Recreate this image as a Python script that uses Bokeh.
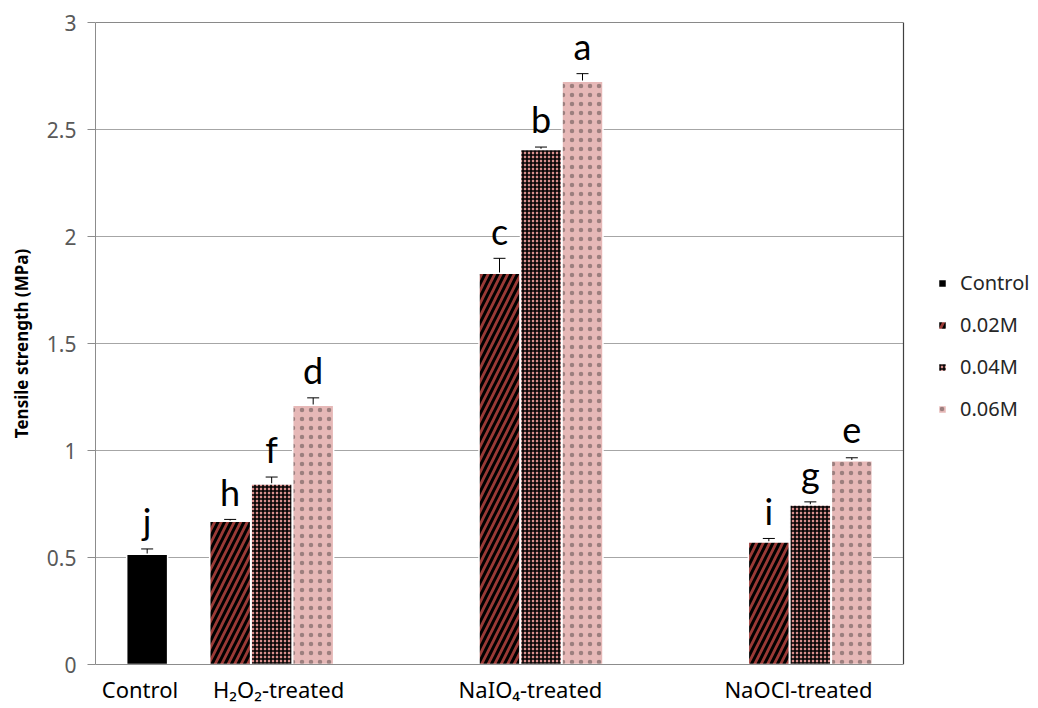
from bokeh.plotting import figure
from bokeh.models import (Range1d, FixedTicker, Legend, LegendItem, Whisker,
                          ColumnDataSource, TeeHead)
from bokeh.core.properties import value
from bokeh.embed import file_html
from bokeh.resources import INLINE

# ---------------- data ----------------
groups = ["H\u2082O\u2082-treated", "NaIO\u2084-treated", "NaOCl-treated"]
series = ["0.02M", "0.04M", "0.06M"]

control_value = [0.515]
control_err = [0.025]
control_letter = ["j"]

m002 = [0.669, 1.828, 0.573]
m002_err = [0.009, 0.070, 0.016]
m002_letters = ["h", "c", "i"]

m004 = [0.843, 2.406, 0.745]
m004_err = [0.033, 0.012, 0.015]
m004_letters = ["f", "b", "g"]

m006 = [1.212, 2.726, 0.952]
m006_err = [0.034, 0.035, 0.014]
m006_letters = ["d", "a", "e"]

y_ticks = [0, 0.5, 1, 1.5, 2, 2.5, 3]
y_tick_labels = ["0", "0.5", "1", "1.5", "2", "2.5", "3"]
x_label_names = ["Control"] + groups

# ---------------- layout constants ----------------
W, H = 1036, 706
LEFT, TOP, BOTTOM = 95, 22, 41
PLOT_PX = 808                      # pixel width of the 0..3 data area
X_MAX = 3.0
Y_MAX = 3.0
X_END = X_MAX * (W - LEFT) / PLOT_PX
SLOT = 0.1541                      # slot width in category units
BAR_W = 0.152
x_label_pos = [0.165, 0.68, 1.615, 2.61]
LETTER_GAP = 0.13

FONT = "Noto Sans"

p = figure(width=W, height=H, x_range=Range1d(0, X_END), y_range=Range1d(0, Y_MAX),
           output_backend="svg", toolbar_location=None,
           min_border_left=LEFT, min_border_right=0, min_border_top=TOP,
           min_border_bottom=BOTTOM)
p.background_fill_color = "white"
p.border_fill_color = "white"
p.outline_line_color = None
p.xgrid.visible = False
p.ygrid.visible = False

# horizontal gridlines limited to the plot area (0..3)
grid_y = [t for t in y_ticks if t > 0]
p.segment(x0=[0] * len(grid_y), y0=grid_y, x1=[X_MAX] * len(grid_y), y1=grid_y,
          line_color="#a6a6a6", line_width=1, level="underlay")

# plot-area border (top and right)
p.segment(x0=[0, X_MAX], y0=[Y_MAX, 0], x1=[X_MAX, X_MAX], y1=[Y_MAX, Y_MAX],
          line_color="#404040", line_width=1.2)

# y axis
p.yaxis.ticker = FixedTicker(ticks=y_ticks)
p.yaxis.major_label_overrides = {t: l for t, l in zip(y_ticks, y_tick_labels)}
p.yaxis.minor_tick_line_color = None
p.yaxis.major_tick_out = 8
p.yaxis.major_tick_in = 0
p.yaxis.major_tick_line_color = "#8c8c8c"
p.yaxis.axis_line_color = "#8c8c8c"
p.yaxis.major_label_text_font = FONT
p.yaxis.major_label_text_font_size = "21px"
p.yaxis.major_label_text_color = "#595959"
p.yaxis.major_label_standoff = 11
p.yaxis.axis_label = "Tensile strength (MPa)"
p.yaxis.axis_label_text_font = FONT
p.yaxis.axis_label_text_font_style = "bold"
p.yaxis.axis_label_text_font_size = "17px"
p.yaxis.axis_label_text_color = "#000000"
p.yaxis.axis_label_standoff = 11

# x axis
p.xaxis.ticker = FixedTicker(ticks=x_label_pos)
p.xaxis.major_label_overrides = {t: l for t, l in zip(x_label_pos, x_label_names)}
p.xaxis.major_tick_line_color = None
p.xaxis.minor_tick_line_color = None
p.xaxis.major_tick_out = 0
p.xaxis.major_tick_in = 0
p.xaxis.bounds = (0, X_MAX)
p.xaxis.axis_line_color = "#8c8c8c"
p.xaxis.major_label_text_font = FONT
p.xaxis.major_label_text_font_size = "22px"
p.xaxis.major_label_text_color = "#000000"
p.xaxis.major_label_standoff = 9

# ---------------- bars ----------------
centers = [i + 0.5 for i in range(len(groups))]

styles = {
    "0.02M": dict(fill_color="#9a3a36", hatch_pattern="right_diagonal_line",
                  hatch_color="#000000", hatch_scale=13, hatch_weight=3.0),
    "0.04M": dict(fill_color="#d98f8d", hatch_pattern="cross",
                  hatch_color="#000000", hatch_scale=4, hatch_weight=1.6),
    "0.06M": dict(fill_color="#e6b8b7", hatch_pattern="dot",
                  hatch_color="#222222", hatch_alpha=0.38, hatch_scale=9,
                  hatch_weight=0.4),
}

legend_items = []

ctrl_src = ColumnDataSource(dict(
    x=[centers[0] - 2 * SLOT], top=control_value,
    upper=[v + e for v, e in zip(control_value, control_err)],
    lower=[v - e for v, e in zip(control_value, control_err)],
    letter_y=[v + e + LETTER_GAP for v, e in zip(control_value, control_err)],
    letter=control_letter))
r = p.vbar(x="x", top="top", width=BAR_W, source=ctrl_src, fill_color="black",
           line_color="white", line_width=1.5)
legend_items.append(LegendItem(label="Control", renderers=[r]))
sources = [ctrl_src]

for k, (name, vals, errs, letters) in enumerate(zip(
        series, [m002, m004, m006], [m002_err, m004_err, m006_err],
        [m002_letters, m004_letters, m006_letters])):
    src = ColumnDataSource(dict(
        x=[c + k * SLOT for c in centers], top=vals,
        upper=[v + e for v, e in zip(vals, errs)],
        lower=[v - e for v, e in zip(vals, errs)],
        letter_y=[v + e + LETTER_GAP for v, e in zip(vals, errs)],
        letter=letters))
    r = p.vbar(x="x", top="top", width=BAR_W, source=src,
               line_color="white", line_width=1.5, **styles[name])
    legend_items.append(LegendItem(label=name, renderers=[r]))
    sources.append(src)

for src in sources:
    w = Whisker(source=src, base="x", upper="upper", lower="lower",
                line_color="black", line_width=1,
                upper_head=TeeHead(size=12, line_color="black", line_width=1),
                lower_head=TeeHead(size=12, line_color="black", line_width=1))
    p.add_layout(w)
    p.text(x="x", y="letter_y", text="letter", source=src,
           text_font=value("Lato"), text_font_size="36px",
           text_align="center", text_baseline="alphabetic",
           text_color="black")

legend = Legend(items=legend_items, location=(842, 242), orientation="vertical",
                border_line_color=None, background_fill_alpha=0,
                label_text_font=FONT, label_text_font_size="20px",
                label_text_color="#262626",
                glyph_width=10, glyph_height=10, label_standoff=13,
                spacing=15, padding=0, margin=0, label_height=20)
p.add_layout(legend)

open("out.html", "w").write(file_html(p, INLINE))
